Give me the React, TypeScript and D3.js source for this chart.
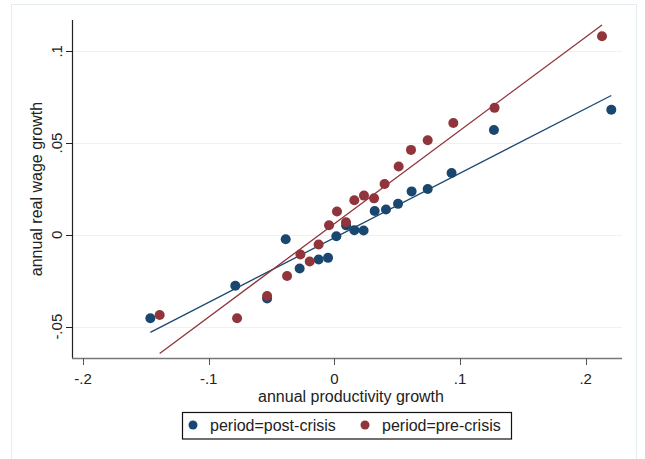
import React, { useEffect, useRef } from "react"
import * as d3 from "d3"

const W = 645
const H = 459

// post-crisis points (productivity growth, real wage growth)
const postX = [-0.1464, -0.0788, -0.0535, -0.0387, -0.0276, -0.0125, -0.005, 0.0016, 0.0094, 0.0159, 0.0233, 0.0321, 0.0411, 0.0507, 0.0615, 0.0743, 0.0933, 0.127, 0.2204]
const postY = [-0.0454, -0.0277, -0.0346, -0.0024, -0.0183, -0.0134, -0.0125, -0.0007, 0.0052, 0.0026, 0.0024, 0.013, 0.0138, 0.0169, 0.0237, 0.025, 0.0337, 0.0571, 0.0682]

// pre-crisis points
const preX = [-0.139, -0.0774, -0.0535, -0.0376, -0.027, -0.0196, -0.0125, -0.0042, 0.0021, 0.0093, 0.0159, 0.0236, 0.0316, 0.04, 0.0512, 0.061, 0.0743, 0.0947, 0.1275, 0.213]
const preY = [-0.0436, -0.0454, -0.0333, -0.0224, -0.0107, -0.0145, -0.0052, 0.0053, 0.0127, 0.0069, 0.0189, 0.0214, 0.0199, 0.0277, 0.0373, 0.0463, 0.0516, 0.0609, 0.0692, 0.1082]

const xTicks = [-0.2, -0.1, 0, 0.1, 0.2]
const xTickLabels = ["-.2", "-.1", "0", ".1", ".2"]
const yTicks = [-0.05, 0, 0.05, 0.1]
const yTickLabels = ["-.05", "0", ".05", ".1"]

const seriesNames = ["period=post-crisis", "period=pre-crisis"]
const colors = ["#1a476f", "#90353b"]

const font = "'Liberation Sans', Arial, sans-serif"

function fit(xs: number[], ys: number[]) {
  const mx = d3.mean(xs)!
  const my = d3.mean(ys)!
  const sxy = d3.sum(xs, (x, i) => (x - mx) * (ys[i] - my))
  const sxx = d3.sum(xs, x => (x - mx) * (x - mx))
  const b = sxy / sxx
  const a = my - b * mx
  const [x0, x1] = d3.extent(xs) as [number, number]
  return [[x0, a + b * x0], [x1, a + b * x1]]
}

export default function App() {
  const ref = useRef<SVGSVGElement>(null)

  useEffect(() => {
    const svg = d3.select(ref.current)
    svg.selectAll("*").remove()

    const left = 72, right = 622, top = 20, bottom = 358

    const x = d3.scaleLinear().domain([-0.2, 0.1]).range([83, 460])
    const y = d3.scaleLinear().domain([-0.05, 0.1]).range([326.7, 51.3])

    svg.append("rect").attr("width", W).attr("height", H).attr("fill", "#fff")
    svg.append("rect")
      .attr("x", 11.5).attr("y", 4.5).attr("width", 625).attr("height", 470)
      .attr("fill", "#fff").attr("stroke", "#e4ecef")

    // gridlines
    svg.append("g").selectAll("line").data(yTicks).enter().append("line")
      .attr("x1", left).attr("x2", right)
      .attr("y1", d => Math.round(y(d)) + 0.5).attr("y2", d => Math.round(y(d)) + 0.5)
      .attr("stroke", "#eaf2f3").attr("stroke-width", 1.2)

    // fit lines
    const line = d3.line<number[]>().x(d => x(d[0])).y(d => y(d[1]))
    const fits = [fit(postX, postY), fit(preX, preY)]
    fits.forEach((f, i) => {
      svg.append("path").attr("d", line(f)).attr("fill", "none")
        .attr("stroke", colors[i]).attr("stroke-width", 1.3)
    })

    // points
    const groups = [[postX, postY], [preX, preY]]
    groups.forEach(([xs, ys], i) => {
      svg.append("g").selectAll("circle").data(xs).enter().append("circle")
        .attr("cx", d => x(d)).attr("cy", (d, j) => y(ys[j]))
        .attr("r", 5).attr("fill", colors[i])
    })

    // axes
    svg.append("line").attr("x1", left + 0.5).attr("x2", left + 0.5)
      .attr("y1", top).attr("y2", bottom).attr("stroke", "#222").attr("stroke-width", 1.2)
    svg.append("line").attr("x1", left).attr("x2", right)
      .attr("y1", bottom + 0.5).attr("y2", bottom + 0.5).attr("stroke", "#777").attr("stroke-width", 1.6)

    const yg = svg.append("g")
    yTicks.forEach((t, i) => {
      const py = Math.round(y(t)) + 0.5
      yg.append("line").attr("x1", left - 6).attr("x2", left).attr("y1", py).attr("y2", py).attr("stroke", "#222")
      yg.append("text").attr("transform", `translate(62,${y(t)}) rotate(-90)`)
        .attr("text-anchor", "middle").attr("font-family", font).attr("font-size", 15)
        .attr("fill", "#222").text(yTickLabels[i])
    })

    const xg = svg.append("g")
    xTicks.forEach((t, i) => {
      const px = Math.round(x(t)) + 0.5
      xg.append("line").attr("x1", px).attr("x2", px).attr("y1", bottom).attr("y2", bottom + 7).attr("stroke", "#555")
      xg.append("text").attr("x", x(t)).attr("y", 383.5)
        .attr("text-anchor", "middle").attr("font-family", font).attr("font-size", 15)
        .attr("fill", "#222").text(xTickLabels[i])
    })

    svg.append("text").attr("x", 351).attr("y", 401.5).attr("text-anchor", "middle")
      .attr("font-family", font).attr("font-size", 16).attr("fill", "#222")
      .text("annual productivity growth")
    svg.append("text").attr("transform", `translate(42,${(top + bottom) / 2}) rotate(-90)`)
      .attr("text-anchor", "middle").attr("font-family", font).attr("font-size", 16).attr("fill", "#222")
      .text("annual real wage growth")

    // legend
    svg.append("rect").attr("x", 182.5).attr("y", 412.5).attr("width", 329).attr("height", 26.5)
      .attr("fill", "#fff").attr("stroke", "#111").attr("stroke-width", 1.2)
    const lx = [193, 365]
    seriesNames.forEach((n, i) => {
      svg.append("circle").attr("cx", lx[i]).attr("cy", 425).attr("r", 4.5).attr("fill", colors[i])
      svg.append("text").attr("x", lx[i] + 17).attr("y", 431)
        .attr("font-family", font).attr("font-size", 16).attr("fill", "#222").text(n)
    })
  }, [])

  return (
    <svg ref={ref} width={W} height={H} style={{ position: "absolute", left: 0, top: 0 }} />
  )
}
